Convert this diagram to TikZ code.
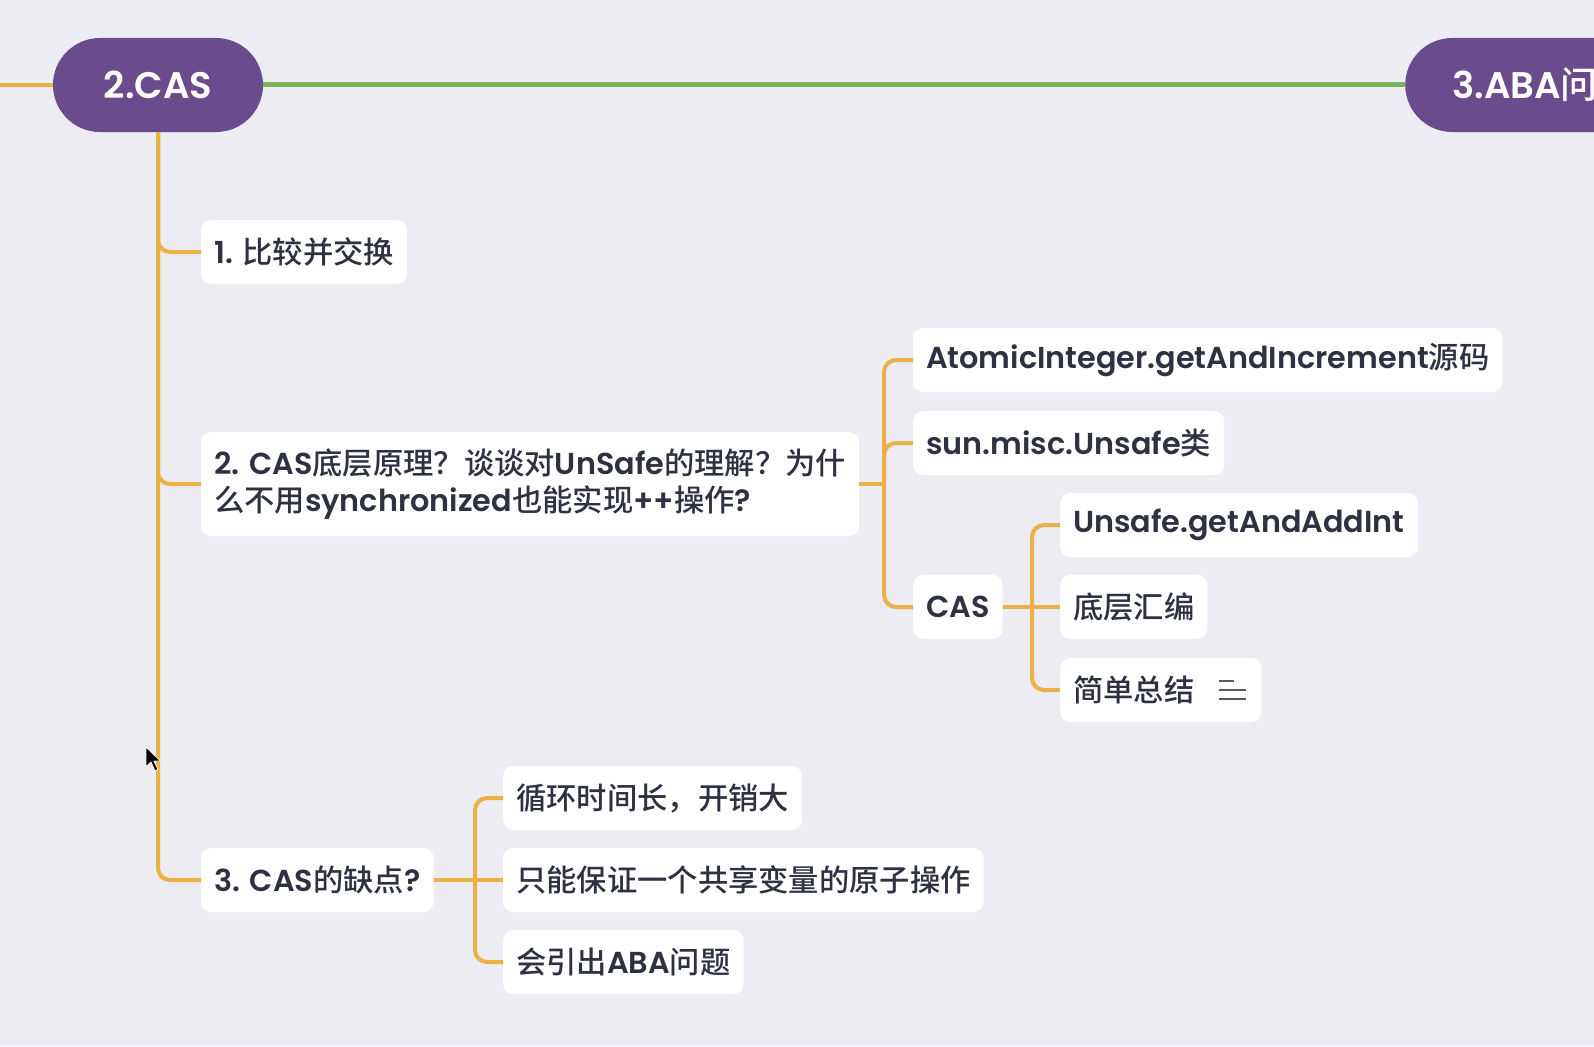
\documentclass[tikz,border=0pt]{standalone}
\usepackage{fontspec}
\setmainfont{Poppins}[BoldFont={Poppins SemiBold}]
\newfontfamily\cjk{Noto Sans CJK SC}[BoldFont={Noto Sans CJK SC Medium}]
\newcommand\zh[1]{{\cjk #1}}
\definecolor{bgc}{HTML}{ECECF2}
\definecolor{topicc}{HTML}{6A4C8C}
\definecolor{orangec}{HTML}{EBB144}
\definecolor{greenc}{HTML}{7DB55A}
\definecolor{textc}{HTML}{2E3140}
\definecolor{iconc}{HTML}{555A66}
\tikzset{
  topic/.style={fill=topicc, rounded corners=47pt, text=white, minimum height=94pt,
    font=\bfseries\fontsize{37}{40}\selectfont, inner xsep=47pt},
  box/.style={fill=white, rounded corners=10pt, text=textc, inner xsep=13pt, inner ysep=6pt,
    minimum height=64pt, anchor=west, align=left, font=\bfseries\fontsize{30.3}{37}\selectfont},
  branch/.style={draw=orangec, line width=4pt, rounded corners=12pt},
  mainline/.style={draw=greenc, line width=5pt}
}
\begin{document}
\begin{tikzpicture}[x=1pt,y=-1pt]
\useasboundingbox (0,0) rectangle (1594,1046);
\clip (0,0) rectangle (1594,1046);
\fill[bgc] (0,0) rectangle (1594,1046);

% topics
\node[topic, minimum width=210pt, inner xsep=0pt] (cas) at (158,85) {2.CAS};
\node[topic, anchor=west] (aba) at (1405,85) {3.ABA\zh{问题}};
\coordinate (inL) at (0,85);
\draw[branch] (inL) -- (cas.west);
\draw[mainline] (cas.east) -- (aba.west);

% level 1
\node[box] (n1) at (201,252) {1. \zh{比较并交换}};
\node[box, minimum height=104pt] (n2) at (201,484) {2. CAS\zh{底层原理？谈谈对}UnSafe\zh{的理解？为什}\\\zh{么不用}synchronized\zh{也能实现}++\zh{操作}?};
\node[box] (n3) at (201,880) {3. CAS\zh{的缺点}?};

\draw[branch] (cas.south) |- (n1.west);
\draw[branch] (cas.south) |- (n2.west);
\draw[branch] (cas.south) |- (n3.west);

% children of n2
\node[box] (a1) at (913,360) {AtomicInteger.getAndIncrement\zh{源码}};
\node[box] (a2) at (913,443) {sun.misc.Unsafe\zh{类}};
\node[box] (a3) at (913,607) {CAS};
\coordinate (j2) at (884,484);
\draw[branch] (n2.east) -- (j2);
\draw[branch] (j2) |- (a1.west);
\draw[branch] (j2) |- (a2.west);
\draw[branch] (j2) |- (a3.west);

% children of CAS
\node[box] (c1) at (1060,525) {Unsafe.getAndAddInt};
\node[box] (c2) at (1060,607) {\zh{底层汇编}};
\node[box] (c3) at (1060,690) {\zh{简单总结}\hspace{54pt}};
\coordinate (j3) at (1032,607);
\draw[branch] (a3.east) -- (c2.west);
\draw[branch] (j3) |- (c1.west);
\draw[branch] (j3) |- (c3.west);
\draw[iconc, line width=2.5pt] ([xshift=-43pt,yshift=-9pt]c3.east) -- ++(27,0);
\draw[iconc, line width=2.5pt] ([xshift=-43pt]c3.east) -- ++(27,0);
\draw[iconc, line width=2.5pt] ([xshift=-43pt,yshift=9pt]c3.east) -- ++(15,0);

% children of n3
\node[box] (b1) at (503,798) {\zh{循环时间长，开销大}};
\node[box] (b2) at (503,880) {\zh{只能保证一个共享变量的原子操作}};
\node[box] (b3) at (503,962) {\zh{会引出}ABA\zh{问题}};
\coordinate (j4) at (475,880);
\draw[branch] (n3.east) -- (b2.west);
\draw[branch] (j4) |- (b1.west);
\draw[branch] (j4) |- (b3.west);

% mouse cursor
\fill[black, draw=white, line width=0.8pt, line join=round] (146,747) -- (146,767) -- (151,762) -- (155,771) -- (158,769.5) -- (154,761) -- (160.5,761) -- cycle;
\end{tikzpicture}
\end{document}
